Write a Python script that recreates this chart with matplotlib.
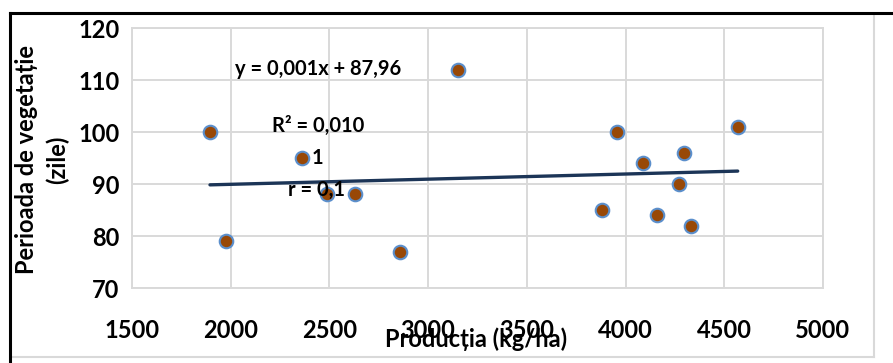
import matplotlib.pyplot as plt
from matplotlib.lines import Line2D

plt.rcParams['font.family'] = ['Lato', 'DejaVu Sans']

# production (kg/ha) vs vegetation period (days)
productie = [1895, 1976, 2361, 2488, 2630, 2858, 3153, 3955, 4087, 4295, 4568, 4273, 3883, 4160, 4331]
perioada = [100, 79, 95, 88, 88, 77, 112, 100, 94, 96, 101, 90, 85, 84, 82]

# trendline as printed on the chart
panta = 0.00099
interceptie = 87.96

x_ticks = [1500, 2000, 2500, 3000, 3500, 4000, 4500, 5000]
y_ticks = [70, 80, 90, 100, 110, 120]

fig = plt.figure(figsize=(8.93, 3.63), dpi=100)
ax = fig.add_axes([132 / 893, 1 - 288 / 363, (823 - 132) / 893, (288 - 28) / 363])

ax.set_xlim(1500, 5000)
ax.set_ylim(70, 120)
ax.set_xticks(x_ticks)
ax.set_yticks(y_ticks)
ax.grid(True, color='#d9d9d9', linewidth=1.4)
ax.set_axisbelow(True)
for s in ax.spines.values():
    s.set_color('#d9d9d9')
    s.set_linewidth(1.4)
ax.tick_params(length=0, labelsize=17, pad=9)
ax.tick_params(axis='x', pad=22)
for lab in ax.get_xticklabels() + ax.get_yticklabels():
    lab.set_fontweight('bold')

x0, x1 = min(productie), max(productie)
ax.plot([x0, x1], [panta * x0 + interceptie, panta * x1 + interceptie],
        color='#1c3557', linewidth=2.4, solid_capstyle='round', zorder=2)

ax.scatter(productie, perioada, s=95, color='#984807', edgecolor='#5b8fcc',
           linewidth=1.5, zorder=3)

kw = dict(fontsize=14.5, fontweight='bold', va='center', zorder=4)
ax.text(2022, 112.1, 'y = 0,001x + 87,96', **kw)
ax.text(2209, 101.2, 'R² = 0,010', **kw)
ax.text(2410, 95, '1', **kw)
ax.text(2290, 88.9, 'r = 0,1', **kw)

fig.text(476 / 893, 1 - 339 / 363, 'Producția (kg/ha)', fontsize=17, fontweight='bold',
         ha='center', va='center')
fig.text(42 / 893, 1 - 160 / 363, 'Perioada de vegetație\n(zile)', fontsize=17,
         fontweight='bold', ha='center', va='center', rotation=90, linespacing=1.4)

# chart area border (gray) and outer frame (black)
fig.add_artist(Line2D([874 / 893, 874 / 893], [1 - 14 / 363, 1 - 357 / 363],
                      transform=fig.transFigure, color='#d9d9d9', linewidth=1.5))
fig.add_artist(Line2D([11 / 893, 874 / 893], [1 - 357 / 363, 1 - 357 / 363],
                      transform=fig.transFigure, color='#d9d9d9', linewidth=1.5))
fig.add_artist(Line2D([10 / 893, 1], [1 - 13 / 363, 1 - 13 / 363],
                      transform=fig.transFigure, color='black', linewidth=2.2))
fig.add_artist(Line2D([10 / 893, 10 / 893], [0, 1 - 13 / 363],
                      transform=fig.transFigure, color='black', linewidth=2.2))

fig.savefig('out.png', dpi=100)
